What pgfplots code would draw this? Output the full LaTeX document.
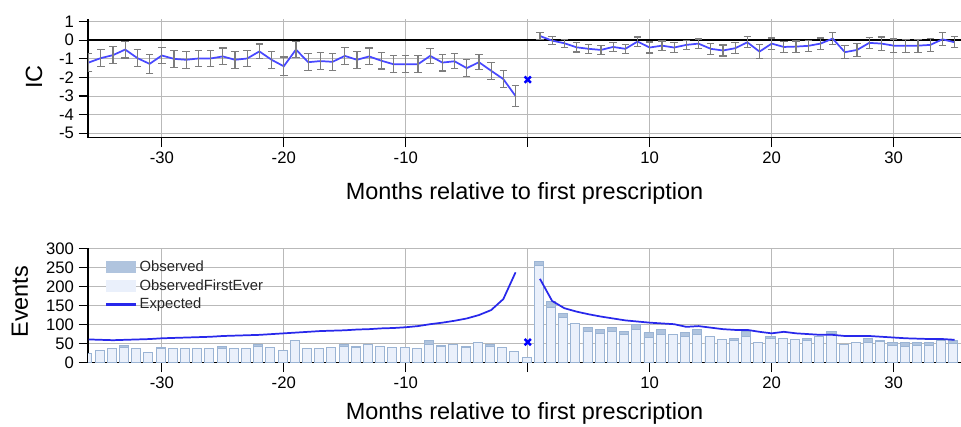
\documentclass[border=0pt]{standalone}
\usepackage{fontspec}
\setmainfont{Liberation Sans}
\usepackage{pgfplots}
\usepackage{pgfplotstable}
\pgfplotsset{compat=1.18}

\definecolor{icblue}{RGB}{72,72,255}
\definecolor{expblue}{RGB}{40,40,235}
\definecolor{obsfill}{RGB}{176,196,222}
\definecolor{firstfill}{RGB}{234,240,251}
\definecolor{barline}{RGB}{155,180,212}
\definecolor{gridgray}{RGB}{185,185,185}
\definecolor{errgray}{RGB}{125,125,125}

% IC before first prescription: month, IC, error
\pgfplotstableread{
x y e
-36 -1.20 0.50
-35 -0.96 0.45
-34 -0.80 0.45
-33 -0.50 0.45
-32 -0.96 0.45
-31 -1.27 0.50
-30 -0.82 0.45
-29 -1.00 0.45
-28 -1.05 0.45
-27 -0.98 0.45
-26 -0.98 0.45
-25 -0.87 0.45
-24 -1.05 0.45
-23 -0.98 0.45
-22 -0.60 0.40
-21 -1.05 0.45
-20 -1.40 0.50
-19 -0.50 0.42
-18 -1.18 0.45
-17 -1.12 0.45
-16 -1.16 0.45
-15 -0.84 0.45
-14 -1.05 0.45
-13 -0.87 0.45
-12 -1.10 0.45
-11 -1.29 0.45
-10 -1.29 0.45
-9 -1.29 0.45
-8 -0.84 0.40
-7 -1.20 0.45
-6 -1.13 0.40
-5 -1.50 0.45
-4 -1.18 0.40
-3 -1.64 0.45
-2 -2.09 0.45
-1 -3.00 0.55
}\icpre

% IC after first prescription
\pgfplotstableread{
x y e
1 0.23 0.20
2 -0.02 0.22
3 -0.16 0.22
4 -0.38 0.25
5 -0.46 0.25
6 -0.52 0.25
7 -0.36 0.25
8 -0.46 0.25
9 -0.07 0.25
10 -0.39 0.30
11 -0.29 0.25
12 -0.39 0.25
13 -0.25 0.25
14 -0.18 0.25
15 -0.46 0.30
16 -0.55 0.30
17 -0.43 0.30
18 -0.11 0.30
19 -0.61 0.38
20 -0.18 0.30
21 -0.36 0.30
22 -0.34 0.30
23 -0.30 0.30
24 -0.18 0.30
25 0.09 0.32
26 -0.64 0.35
27 -0.52 0.35
28 -0.14 0.30
29 -0.18 0.35
30 -0.29 0.36
31 -0.29 0.35
32 -0.29 0.35
33 -0.25 0.35
34 0.05 0.35
35 -0.11 0.30
}\icpost

% events: month, observed, observed first ever, expected
\pgfplotstableread{
x obs first exp
-36 24 24 61
-35 33 33 60
-34 36 36 59
-33 46 40 60
-32 36 36 61
-31 28 28 62
-30 40 37 64
-29 36 36 65
-28 36 36 66
-27 36 36 67
-26 36 36 68
-25 42 38 70
-24 36 36 71
-23 36 36 72
-22 47 42 73
-21 40 40 75
-20 33 33 77
-19 57 57 79
-18 36 36 81
-17 38 38 83
-16 39 39 84
-15 47 42 85
-14 43 40 87
-13 47 47 88
-12 43 43 90
-11 39 39 91
-10 39 39 93
-9 38 38 96
-8 57 49 101
-7 46 42 105
-6 47 47 110
-5 43 40 116
-4 52 52 125
-3 47 42 138
-2 39 39 167
-1 29 29 237
0 14 14 nan
1 265 254 220
2 160 145 162
3 129 119 143
4 103 103 134
5 93 81 127
6 86 77 121
7 92 83 116
8 81 73 111
9 99 86 108
10 79 66 105
11 86 74 103
12 75 73 101
13 79 70 94
14 86 74 96
15 68 68 92
16 61 61 88
17 64 57 86
18 81 68 86
19 52 52 81
20 68 64 77
21 64 64 81
22 61 61 77
23 64 57 75
24 68 68 73
25 83 77 73
26 48 48 70
27 52 52 70
28 64 52 70
29 57 55 68
30 54 46 66
31 53 42 64
32 53 44 63
33 53 45 62
34 59 59 62
35 57 51 60
}\bars

\pgfplotsset{
  panel/.style={
    scale only axis, width=654.75pt,
    xmin=-36.05, xmax=35.52,
    axis lines*=left,
    axis line style={black, line width=0.9pt},
    tick align=outside, major tick length=7pt,
    tick style={black, line width=0.9pt},
    xtick={-30,-20,-10,0,10,20,30},
    xticklabels={-30,-20,-10,,10,20,30},
    grid=major, major grid style={gridgray, line width=0.7pt},
    ticklabel style={font=\fontsize{12.5}{14}\selectfont},
    /pgf/number format/assume math mode=true,
    label style={font=\fontsize{17.6}{20}\selectfont},
    xlabel={Months relative to first prescription},
  },
  boxlegend/.style={legend image code/.code={
    \path[##1, draw=none] (0pt,-4.7pt) rectangle (22.5pt,4.7pt);}},
  linelegend/.style={legend image code/.code={
    \draw[##1, line width=1.8pt] (0pt,0pt) -- (22.5pt,0pt);}},
  icline/.style={icblue, line width=1.3pt, mark=none,
    error bars/.cd, y dir=both, y explicit,
    error bar style={errgray, line width=0.9pt},
    error mark options={rotate=90, mark size=2.8pt, errgray, line width=0.9pt}},
}

\begin{document}
\begin{tikzpicture}
\path[use as bounding box] (0,0) rectangle (720.75pt,-319.5pt);

% upper panel: IC
\begin{axis}[panel,
    at={(66pt,-103.4pt)}, anchor=south west,
    height=89.25pt,
    ymin=-5.25, ymax=1.15,
    ytick={-5,-4,-3,-2,-1,0,1},
    ylabel={IC},
    xlabel style={at={(axis description cs:0.5,-0.522)}, anchor=base},
    ylabel style={at={(axis description cs:-0.0619,0.51)}, anchor=center},
  ]
  \addplot[black, line width=1.4pt, forget plot] coordinates {(-37,0) (37,0)};
  \addplot[icline] table[x=x, y=y, y error=e] {\icpre};
  \addplot[icline] table[x=x, y=y, y error=e] {\icpost};
  \addplot[only marks, mark=x, mark size=3.3pt, blue, line width=1.8pt]
    coordinates {(0,-2.12)};
\end{axis}

% lower panel: events
\begin{axis}[panel,
    at={(66pt,-272pt)}, anchor=south west,
    height=86.3pt,
    ymin=0, ymax=302,
    ytick={0,50,100,150,200,250,300},
    ylabel={Events},
    xlabel style={at={(axis description cs:0.5,-0.498)}, anchor=base},
    ylabel style={at={(axis description cs:-0.0779,0.53)}, anchor=center},
    legend style={at={(axis description cs:0.0195,0.905)}, anchor=north west,
      draw=none, fill=none, inner sep=0pt, row sep=1.5pt,
      font=\fontsize{11.1}{12.5}\selectfont, text=black!85,
      nodes={inner sep=1.5pt}},
    legend cell align=left,
  ]
  \addplot[ybar, bar width=0.74, bar shift=-0.1, fill=obsfill, draw=barline,
    line width=0.7pt, boxlegend] table[x=x, y=obs] {\bars};
  \addplot[ybar, bar width=0.74, bar shift=-0.1, fill=firstfill, draw=barline,
    line width=0.7pt, boxlegend] table[x=x, y=first] {\bars};
  \addplot[expblue, line width=1.3pt, unbounded coords=jump, linelegend]
    table[x=x, y=exp] {\bars};
  \addplot[only marks, mark=x, mark size=3.3pt, blue, line width=1.8pt]
    coordinates {(0,54)};
  \legend{Observed, ObservedFirstEver, Expected}
\end{axis}
\end{tikzpicture}
\end{document}
